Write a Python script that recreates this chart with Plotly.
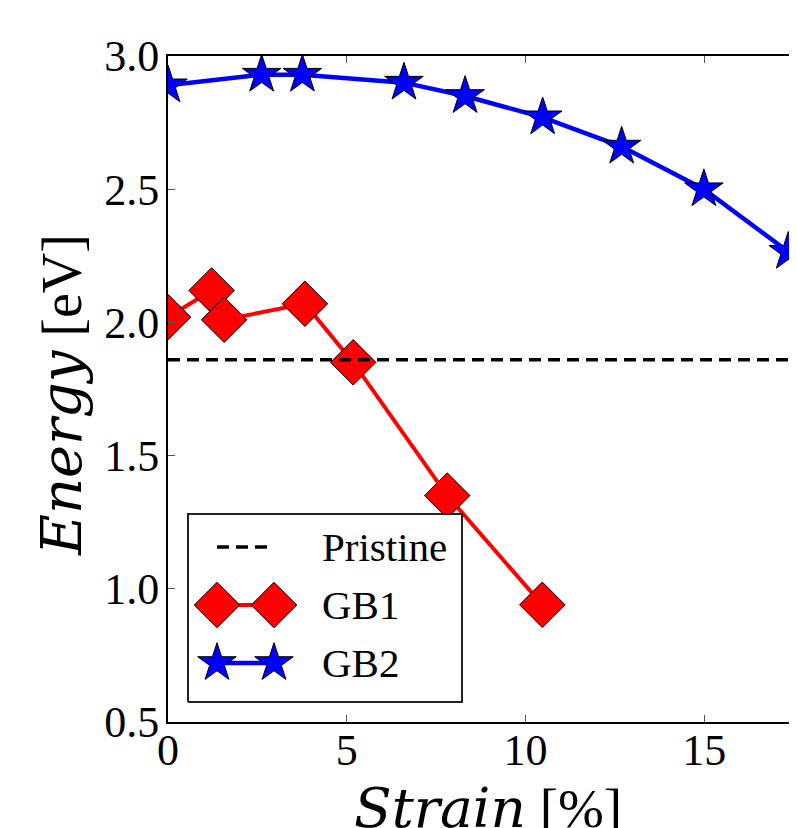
import plotly.graph_objects as go

# ---- data ----
gb1_strain = [0.0, 1.22, 1.57, 3.83, 5.18, 7.81, 10.47]
gb1_energy = [2.02, 2.12, 2.01, 2.07, 1.85, 1.35, 0.94]
gb2_strain = [0.0, 2.62, 3.76, 6.60, 8.31, 10.48, 12.69, 14.99, 17.35]
gb2_energy = [2.89, 2.93, 2.93, 2.90, 2.85, 2.77, 2.66, 2.50, 2.265]
pristine_energy = 1.86
x_ticks = [0, 5, 10, 15]
y_ticks = [0.5, 1.0, 1.5, 2.0, 2.5, 3.0]
legend_labels = ["Pristine", "GB1", "GB2"]

# page body has an 8px margin: lay out in window pixels, convert to figure pixels
OFF = 8
WIN_W, WIN_H = 797, 828
W, H = WIN_W - OFF, WIN_H - OFF
PL, PT, PB, PR = 168, 56, 722, 797           # plot area in window pixels
ML, MT, MB, MR = PL - OFF, PT - OFF, H - (PB - OFF), W - (PR - OFF)
PW, PH = PR - PL, PB - PT
XPX = 35.75  # pixels per unit strain
x_max = PW / XPX

def px_x(p):  # window pixel -> paper x
    return (p - PL) / PW

def px_y(p):  # window pixel -> paper y
    return (PB - p) / PH

SERIF = "Liberation Serif"
RED, BLUE = "#ff0000", "#0000ff"

fig = go.Figure()

fig.add_trace(go.Scatter(
    x=gb1_strain, y=gb1_energy, mode="lines+markers", name="GB1",
    line=dict(color=RED, width=4),
    marker=dict(symbol="diamond", size=35, color=RED, line=dict(color="black", width=1)),
    showlegend=False))
fig.add_trace(go.Scatter(
    x=gb2_strain, y=gb2_energy, mode="lines+markers", name="GB2",
    line=dict(color=BLUE, width=4.5),
    marker=dict(symbol="star", size=29, color=BLUE, line=dict(color="black", width=1)),
    showlegend=False))

# Pristine reference line
fig.add_shape(type="line", xref="x domain", yref="y", x0=0, x1=1,
              y0=pristine_energy, y1=pristine_energy,
              line=dict(color="black", width=3.5, dash="12px,7px"), layer="above")

# ---- custom legend (overlay axes in paper-like coordinates) ----
bx0, bx1 = px_x(188), px_x(462)
by0, by1 = px_y(702), px_y(514)
fig.add_trace(go.Scatter(
    x=[bx0, bx1, bx1, bx0, bx0], y=[by0, by0, by1, by1, by0],
    xaxis="x2", yaxis="y2", mode="lines", fill="toself", fillcolor="white",
    line=dict(color="#222222", width=2), hoverinfo="skip", showlegend=False))

hx = [px_x(217), px_x(274)]
ly = [px_y(547), px_y(605), px_y(663)]
fig.add_trace(go.Scatter(
    x=hx, y=[ly[0], ly[0]], xaxis="x2", yaxis="y2", mode="lines",
    line=dict(color="black", width=3.5, dash="12px,7px"), hoverinfo="skip", showlegend=False))
fig.add_trace(go.Scatter(
    x=hx, y=[ly[1], ly[1]], xaxis="x2", yaxis="y2", mode="lines+markers",
    line=dict(color=RED, width=4),
    marker=dict(symbol="diamond", size=35, color=RED, line=dict(color="black", width=1)),
    cliponaxis=False, hoverinfo="skip", showlegend=False))
fig.add_trace(go.Scatter(
    x=hx, y=[ly[2], ly[2]], xaxis="x2", yaxis="y2", mode="lines+markers",
    line=dict(color=BLUE, width=4.5),
    marker=dict(symbol="star", size=29, color=BLUE, line=dict(color="black", width=1)),
    cliponaxis=False, hoverinfo="skip", showlegend=False))

annotations = []
for lab, yy in zip(legend_labels, ly):
    annotations.append(dict(x=px_x(320), y=yy, xref="paper", yref="paper", text=lab,
                            showarrow=False, xanchor="left", yanchor="middle",
                            font=dict(family=SERIF, size=41, color="black")))

# axis titles
annotations.append(dict(
    x=px_x(488), y=0, xref="paper", yref="paper", yshift=-52, xanchor="center", yanchor="top",
    text="<i><span style='font-family:DejaVu Serif'>Strain</span></i> [%]",
    showarrow=False, font=dict(family=SERIF, size=55, color="black")))
annotations.append(dict(
    x=0, y=px_y(395), xref="paper", yref="paper", xshift=-107, xanchor="center", yanchor="middle",
    textangle=-90,
    text="<i><span style='font-family:DejaVu Serif'>Energy</span></i> [eV]",
    showarrow=False, font=dict(family=SERIF, size=56, color="black")))

fig.update_layout(
    width=W, height=H,
    margin=dict(l=ML, r=MR, t=MT, b=MB, pad=0),
    paper_bgcolor="white", plot_bgcolor="white",
    showlegend=False,
    annotations=annotations,
    xaxis=dict(range=[0, x_max], tickvals=x_ticks, ticktext=[str(t) for t in x_ticks],
               ticks="inside", ticklen=7, tickwidth=1, tickcolor="#555555",
               showline=True, linecolor="black", linewidth=2, mirror="ticks",
               showgrid=False, zeroline=False, ticklabelstandoff=-12,
               tickfont=dict(family=SERIF, size=44, color="black")),
    yaxis=dict(range=[0.5, 3.0], tickvals=y_ticks, ticktext=[f"{t:.1f}" for t in y_ticks],
               ticks="inside", ticklen=7, tickwidth=1, tickcolor="#555555",
               showline=True, linecolor="black", linewidth=2, mirror=False,
               showgrid=False, zeroline=False, ticklabelstandoff=-2,
               tickfont=dict(family=SERIF, size=44, color="black")),
    xaxis2=dict(overlaying="x", range=[0, 1], visible=False, fixedrange=True),
    yaxis2=dict(overlaying="y", range=[0, 1], visible=False, fixedrange=True),
)

fig.write_html("out.html")
